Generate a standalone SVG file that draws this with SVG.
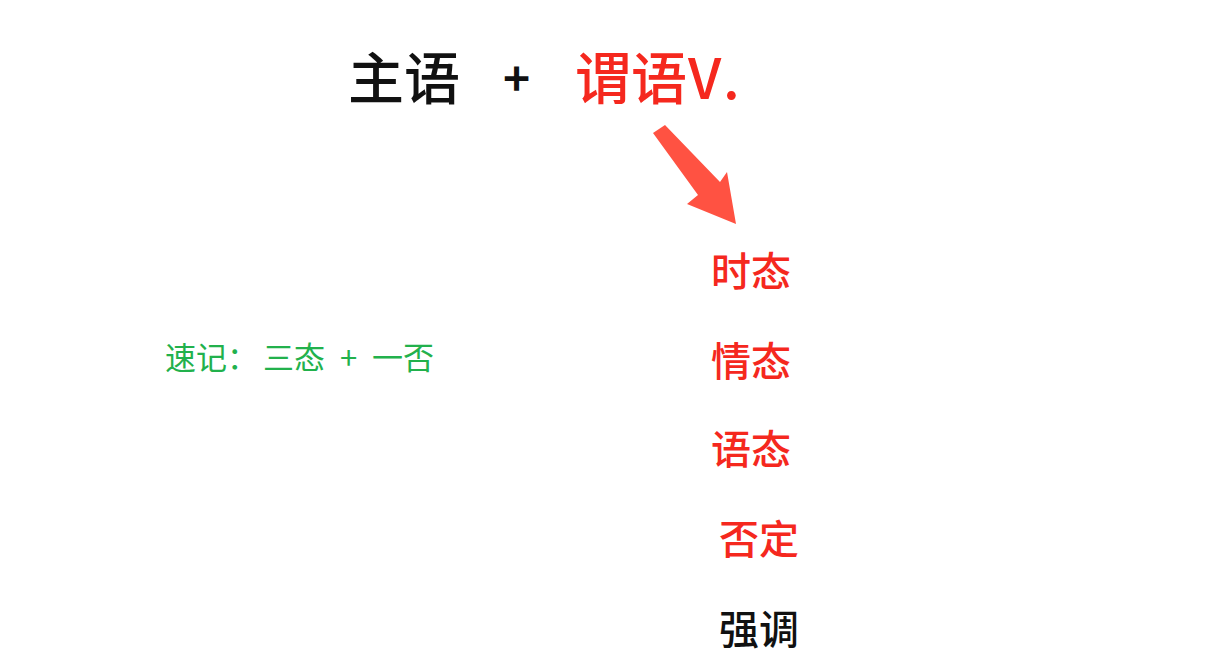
<svg xmlns="http://www.w3.org/2000/svg" width="1232" height="663" viewBox="0 0 1232 663">
<style>
.cjk{font-family:"Noto Sans CJK SC","Noto Sans",sans-serif;}
.big{font-size:56px;font-weight:500;}
.item{font-size:40px;font-weight:500;}
.red{fill:#F5281E;}
.blk{fill:#111111;}
.green{fill:#22B14C;font-size:31px;font-weight:400;}
</style>
<rect width="1232" height="663" fill="#ffffff"/>
<g id="title">
<text class="cjk big blk" x="348" y="99">主语</text>
<text class="cjk blk" x="503" y="96" font-size="46" font-weight="700">+</text>
<text class="cjk big red" x="575" y="99">谓语<tspan x="688" letter-spacing="6">V.</tspan></text>
</g>
<g id="connectors">
<polygon points="653,133 665,125 720,182 727,172 736,224 687,204 698,195" fill="#FF5242"/>
</g>
<g id="shitai"><text class="cjk item red" x="711" y="286">时态</text></g>
<g id="qingtai"><text class="cjk item red" x="711" y="376">情态</text></g>
<g id="yutai"><text class="cjk item red" x="711" y="464">语态</text></g>
<g id="fouding"><text class="cjk item red" x="719" y="554">否定</text></g>
<g id="qiangdiao"><text class="cjk item blk" x="719" y="644">强调</text></g>
<g id="note"><text class="cjk green" x="165" y="369">速记：<tspan x="263">三态</tspan><tspan x="340">+</tspan><tspan x="372">一否</tspan></text></g>
</svg>
